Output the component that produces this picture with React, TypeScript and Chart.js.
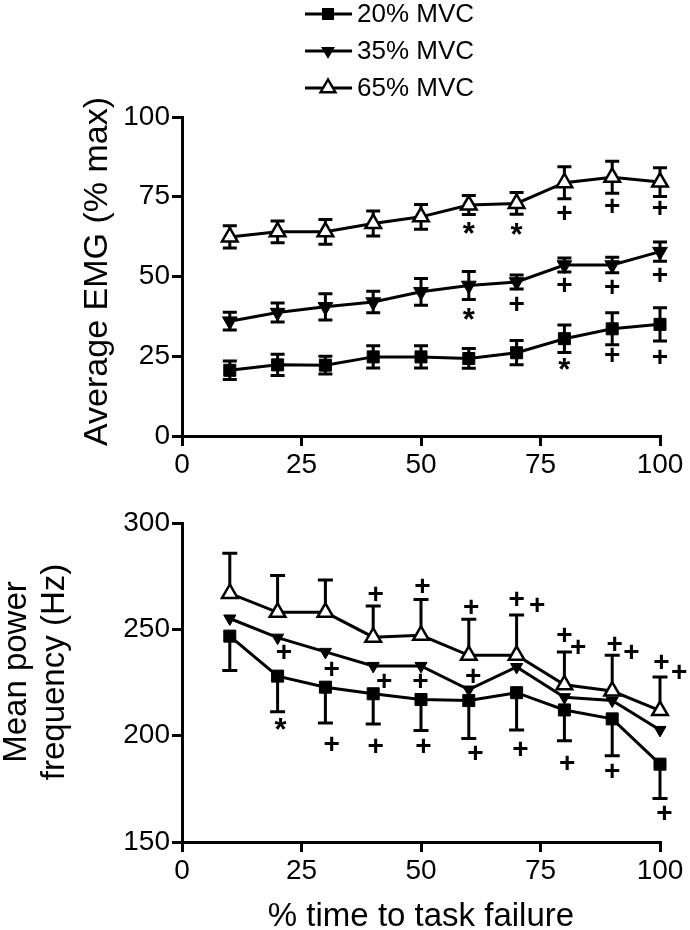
import React, { useEffect, useRef } from "react";
import { Chart, registerables } from "chart.js";

Chart.register(...registerables);

const FONT = "'Liberation Sans', Arial, Helvetica, sans-serif";

// ---- data ----
const timePoints = [10, 20, 30, 40, 50, 60, 70, 80, 90, 100];
const xTickValues = [0, 25, 50, 75, 100];
const emgTickValues = [0, 25, 50, 75, 100];
const mpfTickValues = [150, 200, 250, 300];
const seriesLabels = ["20% MVC", "35% MVC", "65% MVC"];

const emg20 = [20.6, 22.3, 22.2, 24.8, 24.8, 24.3, 26.1, 30.5, 33.6, 35.0];
const emg20Err = [2.9, 3.3, 2.8, 3.5, 3.5, 3.1, 3.8, 4.3, 5.0, 5.2];
const emg35 = [36.0, 38.7, 40.5, 42.0, 45.2, 47.2, 48.3, 53.6, 53.6, 57.8];
const emg35Err = [2.8, 3.0, 4.1, 3.4, 4.2, 4.4, 2.2, 2.2, 2.4, 3.0];
const emg65 = [62.4, 64.0, 64.0, 66.6, 68.7, 72.4, 72.9, 79.4, 81.1, 79.6];
const emg65Err = [3.5, 3.4, 3.9, 3.9, 3.9, 3.0, 3.4, 5.0, 5.0, 4.5];

const mpf20 = [246.8, 228.0, 222.8, 219.7, 217.0, 216.5, 220.2, 212.1, 207.9, 186.6];
const mpf20Err = [16.1, 16.7, 16.8, 14.2, 14.6, 17.8, 17.5, 14.5, 17.3, 16.2];
const mpf35 = [255.1, 246.1, 239.4, 232.8, 232.8, 221.7, 232.3, 218.1, 216.5, 202.7];
const mpf65 = [266.9, 258.0, 258.0, 246.3, 247.2, 237.8, 237.8, 223.9, 221.0, 211.8];
const mpf65Err = [18.9, 17.3, 15.2, 14.7, 16.8, 17.0, 18.9, 15.5, 16.8, 15.8];

type Mark = { x: number; y: number; s: string };

const emgMarks: Mark[] = [
  { x: 60, y: 65.3, s: "*" }, { x: 70, y: 64.8, s: "*" },
  { x: 80, y: 69.5, s: "+" }, { x: 90, y: 71.8, s: "+" }, { x: 100, y: 71.0, s: "+" },
  { x: 60, y: 38.1, s: "*" }, { x: 70, y: 41.0, s: "+" },
  { x: 80, y: 46.9, s: "+" }, { x: 90, y: 46.2, s: "+" }, { x: 100, y: 50.0, s: "+" },
  { x: 80, y: 22.5, s: "*" }, { x: 90, y: 25.1, s: "+" }, { x: 100, y: 24.3, s: "+" },
];

const mpfMarks: Mark[] = [
  { x: 20.6, y: 205.5, s: "*" },
  { x: 31.3, y: 195.3, s: "+" }, { x: 40.5, y: 194.5, s: "+" }, { x: 50.5, y: 194.5, s: "+" },
  { x: 61.4, y: 191.3, s: "+" }, { x: 70.8, y: 193.2, s: "+" }, { x: 80.6, y: 186.6, s: "+" },
  { x: 90.0, y: 182.7, s: "+" }, { x: 100.9, y: 163.0, s: "+" },
  { x: 21.3, y: 238.6, s: "+" }, { x: 31.3, y: 230.7, s: "+" }, { x: 42.3, y: 225.2, s: "+" },
  { x: 49.9, y: 225.2, s: "+" }, { x: 60.9, y: 227.6, s: "+" },
  { x: 40.5, y: 266.1, s: "+" }, { x: 50.3, y: 269.8, s: "+" }, { x: 60.5, y: 259.8, s: "+" },
  { x: 70.0, y: 263.5, s: "+" }, { x: 74.3, y: 261.0, s: "+" },
  { x: 80.0, y: 246.5, s: "+" }, { x: 82.9, y: 241.0, s: "+" },
  { x: 90.5, y: 242.5, s: "+" }, { x: 94.0, y: 238.6, s: "+" },
  { x: 100.3, y: 233.9, s: "+" }, { x: 104.0, y: 229.1, s: "+" },
];

type ErrSpec = { ds: number; err: number[]; dir: "both" | "up" | "down" };

// ---- helpers ----
function makeDataset(label: string, values: number[], kind: number, radius: number) {
  const open = kind === 2;
  return {
    label,
    data: timePoints.map((x, i) => ({ x, y: values[i] })),
    borderColor: "#000",
    borderWidth: 3,
    tension: 0,
    fill: false,
    clip: false,
    pointStyle: kind === 0 ? "rect" : "triangle",
    pointRotation: kind === 1 ? 180 : 0,
    pointRadius: radius,
    pointBackgroundColor: open ? "#fff" : "#000",
    pointBorderColor: "#000",
    pointBorderWidth: open ? 2.5 : 1,
  };
}

function drawLegendMarker(ctx: CanvasRenderingContext2D, kind: number, cx: number, cy: number) {
  ctx.save();
  ctx.fillStyle = "#000";
  ctx.strokeStyle = "#000";
  if (kind === 0) {
    ctx.fillRect(cx - 6, cy - 6, 12, 12);
  } else if (kind === 1) {
    const r = 8;
    ctx.beginPath();
    ctx.moveTo(cx, cy + r);
    ctx.lineTo(cx - r * 0.866, cy - r / 2);
    ctx.lineTo(cx + r * 0.866, cy - r / 2);
    ctx.closePath();
    ctx.fill();
  } else {
    const r = 8.5;
    ctx.beginPath();
    ctx.moveTo(cx, cy - r);
    ctx.lineTo(cx - r * 0.866, cy + r / 2);
    ctx.lineTo(cx + r * 0.866, cy + r / 2);
    ctx.closePath();
    ctx.fillStyle = "#fff";
    ctx.fill();
    ctx.lineWidth = 2.5;
    ctx.stroke();
  }
  ctx.restore();
}

function xScale(height: number) {
  return {
    type: "linear",
    min: 0,
    max: 100,
    afterBuildTicks: (s: any) => {
      s.ticks = xTickValues.map((v) => ({ value: v }));
    },
    afterFit: (s: any) => {
      s.height = height;
    },
    grid: { drawOnChartArea: false, drawTicks: true, tickLength: 10, color: "#000", lineWidth: 3 },
    border: { display: true, color: "#000", width: 3 },
    ticks: { color: "#000", font: { family: FONT, size: 28 }, padding: 2, maxRotation: 0, autoSkip: false },
  };
}

function yScale(min: number, max: number, tickValues: number[], width: number) {
  return {
    type: "linear",
    min,
    max,
    afterBuildTicks: (s: any) => {
      s.ticks = tickValues.map((v) => ({ value: v }));
    },
    afterFit: (s: any) => {
      s.width = width;
    },
    grid: { drawOnChartArea: false, drawTicks: true, tickLength: 10, color: "#000", lineWidth: 3 },
    border: { display: true, color: "#000", width: 3 },
    ticks: { color: "#000", font: { family: FONT, size: 28 }, padding: 2, autoSkip: false },
  };
}

function errorBarsPlugin(specs: ErrSpec[], cap: number) {
  return {
    id: "errorBars",
    beforeDatasetsDraw(chart: any) {
      const ctx: CanvasRenderingContext2D = chart.ctx;
      const xs = chart.scales.x;
      const ys = chart.scales.y;
      ctx.save();
      ctx.strokeStyle = "#000";
      ctx.lineWidth = 3;
      for (const sp of specs) {
        const data = chart.data.datasets[sp.ds].data as { x: number; y: number }[];
        data.forEach((p, i) => {
          const px = xs.getPixelForValue(p.x);
          const pc = ys.getPixelForValue(p.y);
          const ends: number[] = [];
          if (sp.dir !== "down") ends.push(ys.getPixelForValue(p.y + sp.err[i]));
          if (sp.dir !== "up") ends.push(ys.getPixelForValue(p.y - sp.err[i]));
          for (const pe of ends) {
            ctx.beginPath();
            ctx.moveTo(px, pc);
            ctx.lineTo(px, pe);
            ctx.moveTo(px - cap, pe);
            ctx.lineTo(px + cap, pe);
            ctx.stroke();
          }
        });
      }
      ctx.restore();
    },
  };
}

function textMarksPlugin(marks: Mark[]) {
  return {
    id: "textMarks",
    afterDatasetsDraw(chart: any) {
      const ctx: CanvasRenderingContext2D = chart.ctx;
      const xs = chart.scales.x;
      const ys = chart.scales.y;
      ctx.save();
      ctx.fillStyle = "#000";
      ctx.textAlign = "center";
      ctx.textBaseline = "middle";
      for (const m of marks) {
        const size = m.s === "*" ? 31 : 28;
        ctx.font = `bold ${size}px ${FONT}`;
        const off = m.s === "*" ? size * 0.24 : 0;
        ctx.fillText(m.s, xs.getPixelForValue(m.x), ys.getPixelForValue(m.y) + off);
      }
      ctx.restore();
    },
  };
}

const legendPlugin = {
  id: "customLegend",
  afterDraw(chart: any) {
    const ctx: CanvasRenderingContext2D = chart.ctx;
    const rows = [14, 51, 88];
    ctx.save();
    seriesLabels.forEach((lab, i) => {
      const y = rows[i];
      ctx.strokeStyle = "#000";
      ctx.lineWidth = 3;
      ctx.beginPath();
      ctx.moveTo(305, y);
      ctx.lineTo(352, y);
      ctx.stroke();
      drawLegendMarker(ctx, i, 328, y);
      ctx.fillStyle = "#000";
      ctx.font = `26px ${FONT}`;
      ctx.textAlign = "left";
      ctx.textBaseline = "middle";
      ctx.fillText(lab, 357, y + 1);
    });
    ctx.restore();
  },
};

const topTitlePlugin = {
  id: "topTitle",
  afterDraw(chart: any) {
    const ctx: CanvasRenderingContext2D = chart.ctx;
    const a = chart.chartArea;
    ctx.save();
    ctx.translate(0, (a.top + a.bottom) / 2 - 5);
    ctx.rotate(-Math.PI / 2);
    ctx.fillStyle = "#000";
    ctx.font = `34px ${FONT}`;
    ctx.textAlign = "center";
    ctx.textBaseline = "alphabetic";
    ctx.fillText("Average EMG (% max)", 0, 107);
    ctx.restore();
  },
};

const bottomTitlePlugin = {
  id: "bottomTitle",
  afterDraw(chart: any) {
    const ctx: CanvasRenderingContext2D = chart.ctx;
    const a = chart.chartArea;
    ctx.save();
    ctx.fillStyle = "#000";
    ctx.font = `33px ${FONT}`;
    ctx.textAlign = "center";
    ctx.textBaseline = "alphabetic";
    ctx.fillText("% time to task failure", (a.left + a.right) / 2, chart.height - 4);
    ctx.restore();

    ctx.save();
    ctx.translate(0, 192);
    ctx.rotate(-Math.PI / 2);
    ctx.fillStyle = "#000";
    ctx.font = `33px ${FONT}`;
    ctx.textAlign = "center";
    ctx.textBaseline = "alphabetic";
    ctx.fillText("Mean power", 0, 26);
    ctx.fillText("frequency (Hz)", 0, 64);
    ctx.restore();
  },
};

export default function App() {
  const topRef = useRef<HTMLCanvasElement>(null);
  const botRef = useRef<HTMLCanvasElement>(null);

  useEffect(() => {
    const topChart = new Chart(topRef.current as HTMLCanvasElement, {
      type: "line",
      data: {
        datasets: [
          makeDataset(seriesLabels[0], emg20, 0, 8.5),
          makeDataset(seriesLabels[1], emg35, 1, 8.5),
          makeDataset(seriesLabels[2], emg65, 2, 9),
        ] as any,
      },
      options: {
        responsive: false,
        animation: false,
        layout: { padding: { left: 0, right: 30, top: 117, bottom: 0 } },
        plugins: { legend: { display: false }, tooltip: { enabled: false } },
        scales: {
          x: xScale(44) as any,
          y: yScale(0, 100, emgTickValues, 182) as any,
        },
      },
      plugins: [
        errorBarsPlugin(
          [
            { ds: 0, err: emg20Err, dir: "both" },
            { ds: 1, err: emg35Err, dir: "both" },
            { ds: 2, err: emg65Err, dir: "both" },
          ],
          7
        ),
        textMarksPlugin(emgMarks),
        legendPlugin,
        topTitlePlugin,
      ] as any,
    });

    const botChart = new Chart(botRef.current as HTMLCanvasElement, {
      type: "line",
      data: {
        datasets: [
          makeDataset(seriesLabels[0], mpf20, 0, 8.5),
          makeDataset(seriesLabels[1], mpf35, 1, 7),
          makeDataset(seriesLabels[2], mpf65, 2, 9),
        ] as any,
      },
      options: {
        responsive: false,
        animation: false,
        layout: { padding: { left: 0, right: 30, top: 43, bottom: 0 } },
        plugins: { legend: { display: false }, tooltip: { enabled: false } },
        scales: {
          x: xScale(88) as any,
          y: yScale(150, 300, mpfTickValues, 182) as any,
        },
      },
      plugins: [
        errorBarsPlugin(
          [
            { ds: 0, err: mpf20Err, dir: "down" },
            { ds: 2, err: mpf65Err, dir: "up" },
          ],
          7.5
        ),
        textMarksPlugin(mpfMarks),
        bottomTitlePlugin,
      ] as any,
    });

    return () => {
      topChart.destroy();
      botChart.destroy();
    };
  }, []);

  return (
    <div style={{ position: "absolute", left: 0, top: 0, width: 690, height: 930, background: "#fff" }}>
      <canvas ref={topRef} width={690} height={480} style={{ display: "block", width: 690, height: 480 }} />
      <canvas ref={botRef} width={690} height={450} style={{ display: "block", width: 690, height: 450 }} />
    </div>
  );
}
